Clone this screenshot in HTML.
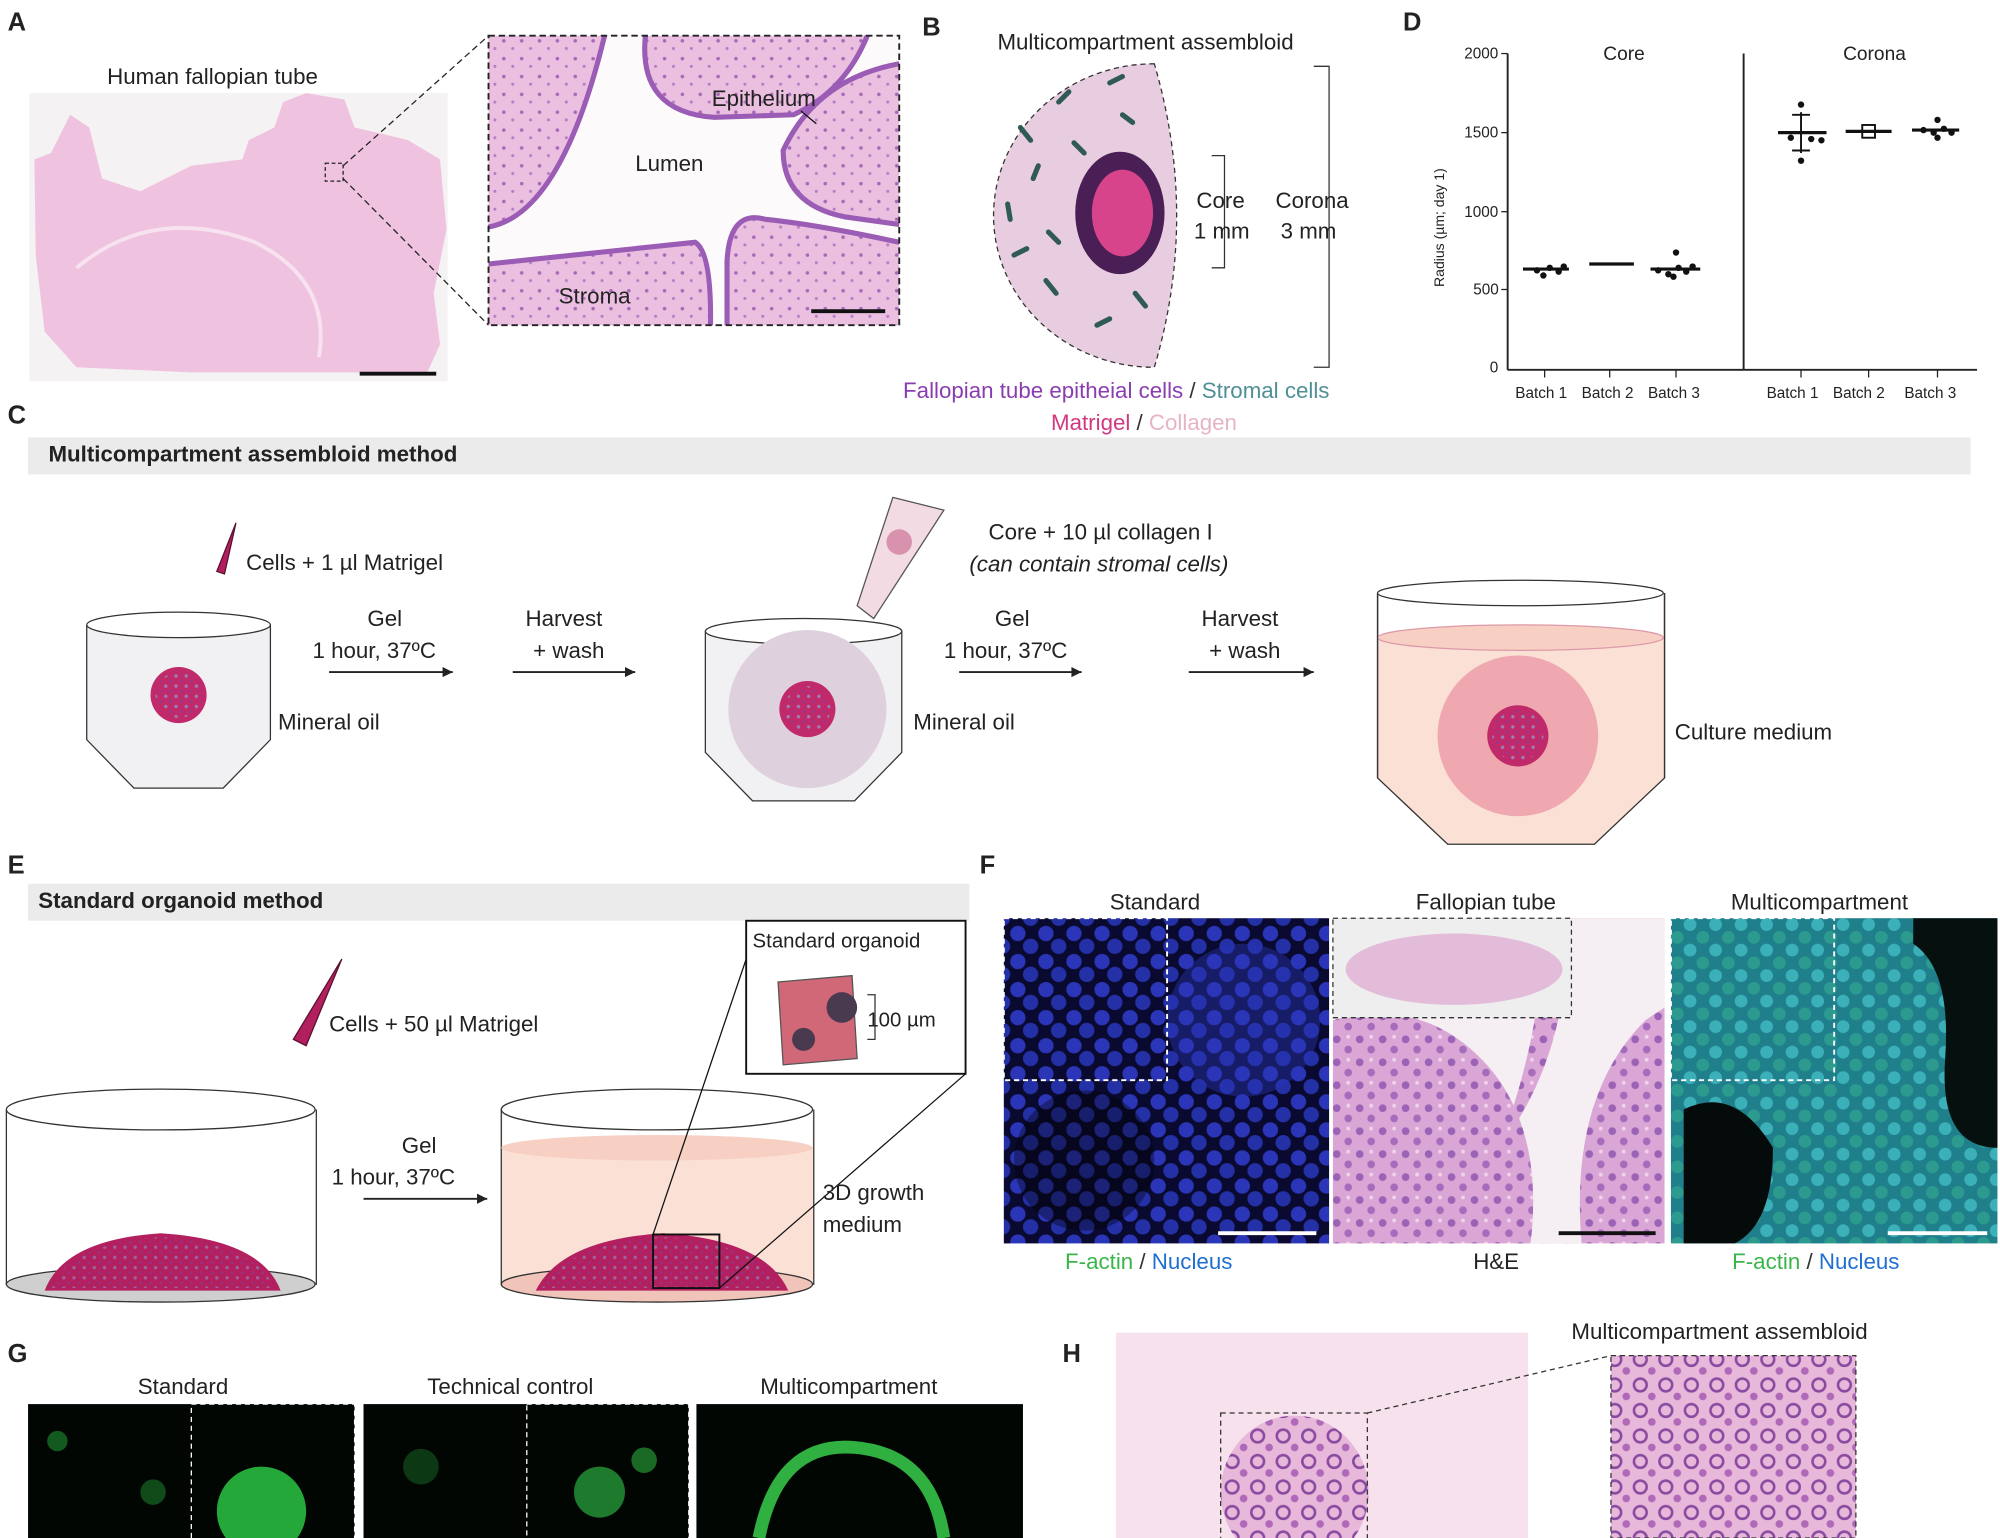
<!DOCTYPE html>
<html><head><meta charset="utf-8"><style>
html,body{margin:0;padding:0;background:#fff;width:2000px;height:1538px;overflow:hidden}
svg{display:block}
text{font-family:"Liberation Sans",Arial,sans-serif;fill:#222}
</style></head><body>
<svg width="2000" height="1538" viewBox="0 0 1568 1206" preserveAspectRatio="none" xmlns="http://www.w3.org/2000/svg">
<defs>
<pattern id="dots" width="8" height="8" patternUnits="userSpaceOnUse"><circle cx="2" cy="2" r="1.3" fill="#8aa7d8"/><circle cx="6" cy="6" r="1.1" fill="#7f3fa0"/></pattern>
<pattern id="tis" width="14" height="14" patternUnits="userSpaceOnUse"><rect width="14" height="14" fill="#ebbfe0"/><circle cx="3" cy="4" r="1.4" fill="#a868b8"/><circle cx="10" cy="10" r="1.2" fill="#b77cc4"/></pattern>
<pattern id="he" width="18" height="18" patternUnits="userSpaceOnUse"><rect width="18" height="18" fill="#d9a6d6"/><circle cx="4" cy="5" r="3" fill="#9b62b5"/><circle cx="13" cy="13" r="3" fill="#a56cbc"/><circle cx="13" cy="3" r="1.5" fill="#f0d2ea"/></pattern>
<pattern id="nuc" width="22" height="22" patternUnits="userSpaceOnUse"><rect width="22" height="22" fill="#0a0a30"/><circle cx="6" cy="6" r="6" fill="#2b35b8"/><circle cx="16" cy="16" r="6" fill="#2430a6"/></pattern>
<pattern id="teal" width="20" height="20" patternUnits="userSpaceOnUse"><rect width="20" height="20" fill="#1f7f8a"/><circle cx="5" cy="5" r="5" fill="#3cb0b8"/><circle cx="15" cy="15" r="5" fill="#2c9a8f"/></pattern>
<pattern id="hmix" width="20" height="20" patternUnits="userSpaceOnUse"><rect width="20" height="20" fill="#e7b8da"/><circle cx="6" cy="6" r="5" fill="none" stroke="#8a4aa0" stroke-width="2"/><circle cx="15" cy="15" r="3" fill="#b068b8"/></pattern>
</defs>

<!-- A -->
<text x="6" y="24" font-size="20" font-weight="bold">A</text>
<text x="84" y="66" font-size="17.5">Human fallopian tube</text>
<rect x="23" y="73" width="328" height="226" fill="#f4f2f3"/>
<path d="M27 125 L40 120 L55 90 L70 100 L80 140 L110 150 L150 130 L190 125 L195 110 L215 100 L222 80 L240 73 L270 78 L278 100 L300 105 L320 110 L345 125 L350 180 L340 230 L345 270 L335 292 L150 292 L60 288 L35 260 L28 200 Z" fill="#efc3e0"/>
<path d="M60 210 Q120 160 200 190 Q260 220 250 280" fill="none" stroke="#f7e3ef" stroke-width="3"/>
<path d="M282 293 L342 293" stroke="#111" stroke-width="3"/>
<rect x="255" y="128" width="14" height="14" fill="none" stroke="#222" stroke-dasharray="3,2"/>
<line x1="269" y1="130" x2="383" y2="28" stroke="#222" stroke-dasharray="5,3"/>
<line x1="269" y1="140" x2="383" y2="255" stroke="#222" stroke-dasharray="5,3"/>
<rect x="383" y="28" width="322" height="227" fill="url(#tis)"/>
<path d="M474 28 L506 28 Q500 88 560 92 L622 90 Q662 72 680 28 L705 28 L705 50 Q640 62 614 118 Q614 160 662 170 L705 176 L705 190 Q640 176 600 172 Q572 164 570 205 L570 255 L557 255 Q558 198 545 190 Q470 198 383 207 L383 178 Q440 168 474 28 Z" fill="#fdfafc"/>
<path d="M474 28 Q440 168 383 178" fill="none" stroke="#9a5cb4" stroke-width="4"/>
<path d="M506 28 Q500 88 560 92 L622 90 Q662 72 680 28" fill="none" stroke="#9a5cb4" stroke-width="4"/>
<path d="M705 50 Q640 62 614 118 Q614 160 662 170 L705 176" fill="none" stroke="#9a5cb4" stroke-width="4"/>
<path d="M383 207 Q470 198 545 190 Q558 198 557 255" fill="none" stroke="#9a5cb4" stroke-width="4"/>
<path d="M570 255 L570 205 Q572 164 600 172 Q640 176 705 190" fill="none" stroke="#9a5cb4" stroke-width="4"/>
<rect x="383" y="28" width="322" height="227" fill="none" stroke="#222" stroke-dasharray="5,3" stroke-width="1.5"/>
<text x="498" y="134" font-size="17.5">Lumen</text>
<text x="558" y="83" font-size="17.5">Epithelium</text>
<line x1="628" y1="87" x2="640" y2="97" stroke="#111"/>
<text x="438" y="238" font-size="17.5">Stroma</text>
<line x1="636" y1="244" x2="694" y2="244" stroke="#111" stroke-width="3"/>

<!-- B -->
<text x="723" y="28" font-size="20" font-weight="bold">B</text>
<text x="782" y="39" font-size="17.5">Multicompartment assembloid</text>
<path d="M905 50 A125 118 0 0 0 905 288 Q940 170 905 50 Z" fill="#e8cde0" stroke="#333" stroke-dasharray="4,3"/>
<ellipse cx="878" cy="167" rx="35" ry="48" fill="#4a1f55"/>
<ellipse cx="880" cy="167" rx="24" ry="34" fill="#d8448c"/>
<g stroke="#2f5a55" stroke-width="4" stroke-linecap="round">
<line x1="800" y1="100" x2="808" y2="110"/><line x1="830" y1="80" x2="838" y2="72"/><line x1="790" y1="160" x2="792" y2="172"/><line x1="820" y1="220" x2="828" y2="230"/><line x1="860" y1="255" x2="870" y2="250"/><line x1="880" y1="90" x2="888" y2="96"/><line x1="795" y1="200" x2="805" y2="195"/><line x1="850" y1="120" x2="842" y2="112"/><line x1="830" y1="190" x2="822" y2="182"/><line x1="890" y1="230" x2="898" y2="240"/><line x1="870" y1="65" x2="880" y2="60"/><line x1="810" y1="140" x2="814" y2="130"/>
</g>
<path d="M950 122 L960 122 L960 210 L950 210" fill="none" stroke="#333"/>
<text x="938" y="163" font-size="17.5">Core</text><text x="936" y="187" font-size="17.5">1 mm</text>
<path d="M1030 52 L1042 52 L1042 288 L1030 288" fill="none" stroke="#333"/>
<text x="1000" y="163" font-size="17.5">Corona</text><text x="1004" y="187" font-size="17.5">3 mm</text>
<text x="708" y="312" font-size="17.5" style="fill:#8a3db0">Fallopian tube epitheial cells <tspan style="fill:#333">/</tspan> <tspan style="fill:#4f8f96">Stromal cells</tspan></text>
<text x="824" y="337" font-size="17.5" style="fill:#d2387f">Matrigel <tspan style="fill:#333">/</tspan> <tspan style="fill:#e7b4c4">Collagen</tspan></text>

<!-- D -->
<text x="1100" y="24" font-size="20" font-weight="bold">D</text>
<line x1="1182" y1="42" x2="1182" y2="290" stroke="#222" stroke-width="1.5"/>
<line x1="1182" y1="290" x2="1550" y2="290" stroke="#222" stroke-width="1.5"/>
<line x1="1367" y1="42" x2="1367" y2="290" stroke="#222" stroke-width="1.5"/>
<g font-size="12"><text x="1148" y="46">2000</text><text x="1148" y="108">1500</text><text x="1148" y="170">1000</text><text x="1155" y="231">500</text><text x="1168" y="292">0</text></g>
<g stroke="#222"><line x1="1177" y1="42" x2="1182" y2="42"/><line x1="1177" y1="104" x2="1182" y2="104"/><line x1="1177" y1="166" x2="1182" y2="166"/><line x1="1177" y1="227" x2="1182" y2="227"/>
<line x1="1211" y1="290" x2="1211" y2="296"/><line x1="1262" y1="290" x2="1262" y2="296"/><line x1="1314" y1="290" x2="1314" y2="296"/><line x1="1412" y1="290" x2="1412" y2="296"/><line x1="1465" y1="290" x2="1465" y2="296"/><line x1="1519" y1="290" x2="1519" y2="296"/></g>
<text transform="translate(1132,225) rotate(-90)" font-size="11">Radius (µm; day 1)</text>
<text x="1257" y="47" font-size="15">Core</text><text x="1445" y="47" font-size="15">Corona</text>
<g stroke="#111" stroke-width="2.5">
<line x1="1194" y1="211" x2="1230" y2="211"/><line x1="1246" y1="207" x2="1281" y2="207"/><line x1="1294" y1="211" x2="1333" y2="211"/>
<line x1="1394" y1="104" x2="1432" y2="104"/><line x1="1447" y1="103" x2="1483" y2="103"/><line x1="1499" y1="102" x2="1536" y2="102"/>
</g>
<g stroke="#111" stroke-width="1.5">
<line x1="1412" y1="88" x2="1412" y2="120"/><line x1="1405" y1="90" x2="1419" y2="90"/><line x1="1405" y1="118" x2="1419" y2="118"/>
<rect x="1460" y="98" width="10" height="10" fill="none"/>
</g>
<g fill="#111">
<circle cx="1205" cy="212" r="2.5"/><circle cx="1215" cy="210" r="2.5"/><circle cx="1222" cy="213" r="2.5"/><circle cx="1210" cy="216" r="2.5"/><circle cx="1226" cy="209" r="2.5"/>
<circle cx="1300" cy="212" r="2.5"/><circle cx="1308" cy="215" r="2.5"/><circle cx="1316" cy="210" r="2.5"/><circle cx="1322" cy="213" r="2.5"/><circle cx="1312" cy="217" r="2.5"/><circle cx="1327" cy="209" r="2.5"/><circle cx="1314" cy="198" r="2.5"/>
<circle cx="1412" cy="82" r="2.5"/><circle cx="1412" cy="126" r="2.5"/><circle cx="1404" cy="108" r="2.5"/><circle cx="1420" cy="109" r="2.5"/><circle cx="1428" cy="110" r="2.5"/>
<circle cx="1508" cy="102" r="2.5"/><circle cx="1516" cy="104" r="2.5"/><circle cx="1524" cy="101" r="2.5"/><circle cx="1530" cy="104" r="2.5"/><circle cx="1519" cy="94" r="2.5"/><circle cx="1519" cy="108" r="2.5"/>
</g>
<g font-size="12"><text x="1188" y="312">Batch 1</text><text x="1240" y="312">Batch 2</text><text x="1292" y="312">Batch 3</text><text x="1385" y="312">Batch 1</text><text x="1437" y="312">Batch 2</text><text x="1493" y="312">Batch 3</text></g>

<!-- C -->
<text x="6" y="332" font-size="20" font-weight="bold">C</text>
<rect x="22" y="343" width="1523" height="29" fill="#ebebeb"/>
<text x="38" y="362" font-size="17.5" font-weight="bold">Multicompartment assembloid method</text>
<path d="M185 410 L176 450 L170 448 Z" fill="#b21f5f" stroke="#5a1030"/>
<text x="193" y="447" font-size="17.5">Cells + 1 µl  Matrigel</text>
<path d="M68 490 L68 580 L105 618 L175 618 L212 580 L212 490" fill="#f1f1f4" stroke="#333"/>
<ellipse cx="140" cy="490" rx="72" ry="10" fill="#fff" stroke="#333"/>
<circle cx="140" cy="545" r="22" fill="#c02a6a"/><circle cx="140" cy="545" r="18" fill="url(#dots)" opacity="0.7"/>
<text x="218" y="572" font-size="17.5">Mineral oil</text>
<text x="288" y="491" font-size="17.5">Gel</text><text x="245" y="516" font-size="17.5">1 hour, 37ºC</text>
<path d="M258 527 L355 527" stroke="#222" stroke-width="1.5"/><path d="M355 527 l-8 -4 v8 Z" fill="#222"/>
<text x="412" y="491" font-size="17.5">Harvest</text><text x="418" y="516" font-size="17.5">+ wash</text>
<path d="M402 527 L498 527" stroke="#222" stroke-width="1.5"/><path d="M498 527 l-8 -4 v8 Z" fill="#222"/>
<path d="M740 400 L685 485 L672 475 L700 390 Z" fill="#f3dbe3" stroke="#555"/>
<circle cx="705" cy="425" r="10" fill="#d892ae"/>
<text x="775" y="423" font-size="17.5">Core + 10 µl  collagen I</text>
<text x="760" y="448" font-size="17.5" font-style="italic">(can contain stromal cells)</text>
<path d="M553 495 L553 590 L590 628 L670 628 L707 590 L707 495" fill="#f1f1f4" stroke="#333"/>
<ellipse cx="630" cy="495" rx="77" ry="10" fill="#fff" stroke="#333"/>
<circle cx="633" cy="556" r="62" fill="#ded0dc"/><circle cx="633" cy="556" r="22" fill="#c02a6a"/><circle cx="633" cy="556" r="18" fill="url(#dots)" opacity="0.7"/>
<text x="716" y="572" font-size="17.5">Mineral oil</text>
<text x="780" y="491" font-size="17.5">Gel</text><text x="740" y="516" font-size="17.5">1 hour, 37ºC</text>
<path d="M752 527 L848 527" stroke="#222" stroke-width="1.5"/><path d="M848 527 l-8 -4 v8 Z" fill="#222"/>
<text x="942" y="491" font-size="17.5">Harvest</text><text x="948" y="516" font-size="17.5">+ wash</text>
<path d="M932 527 L1030 527" stroke="#222" stroke-width="1.5"/><path d="M1030 527 l-8 -4 v8 Z" fill="#222"/>
<path d="M1080 465 L1080 610 L1135 662 L1250 662 L1305 610 L1305 465" fill="#fbe0d6" stroke="#333"/>
<path d="M1081 465 L1081 500 L1304 500 L1304 465" fill="#fff"/>
<ellipse cx="1192" cy="500" rx="112" ry="10" fill="#f7d0c3" stroke="#d9a"/>
<ellipse cx="1192" cy="465" rx="112" ry="10" fill="#fff" stroke="#333"/>
<line x1="1080" y1="465" x2="1080" y2="610" stroke="#333"/><line x1="1305" y1="465" x2="1305" y2="610" stroke="#333"/>
<circle cx="1190" cy="577" r="63" fill="#f0a8b0"/><circle cx="1190" cy="577" r="24" fill="#c02a6a"/><circle cx="1190" cy="577" r="20" fill="url(#dots)" opacity="0.7"/>
<text x="1313" y="580" font-size="17.5">Culture medium</text>

<!-- E -->
<text x="6" y="685" font-size="20" font-weight="bold">E</text>
<rect x="22" y="693" width="738" height="29" fill="#ebebeb"/>
<text x="30" y="712" font-size="17.5" font-weight="bold">Standard organoid method</text>
<path d="M268 752 L240 820 L230 815 Z" fill="#b21f5f" stroke="#5a1030"/>
<text x="258" y="809" font-size="17.5">Cells + 50 µl  Matrigel</text>
<path d="M5 870 L5 1007 L248 1007 L248 870" fill="#fff" stroke="#333"/>
<ellipse cx="126" cy="870" rx="121" ry="16" fill="#fff" stroke="#333"/>
<ellipse cx="126" cy="1007" rx="121" ry="14" fill="#cfcfcf" stroke="#333"/>
<path d="M35 1012 Q50 972 126 967 Q205 972 220 1012 Z" fill="#b22060"/><path d="M40 1010 Q55 975 126 970 Q200 975 215 1010 Z" fill="url(#dots)" opacity="0.5"/>
<text x="315" y="904" font-size="17.5">Gel</text><text x="260" y="929" font-size="17.5">1 hour, 37ºC</text>
<path d="M285 940 L382 940" stroke="#222" stroke-width="1.5"/><path d="M382 940 l-8 -4 v8 Z" fill="#222"/>
<path d="M393 870 L393 1007 L638 1007 L638 870" fill="#fbe0d6" stroke="#333"/>
<rect x="394" y="870" width="243" height="30" fill="#fff"/>
<ellipse cx="515" cy="900" rx="122" ry="10" fill="#f7d0c3"/>
<ellipse cx="515" cy="870" rx="122" ry="16" fill="#fff" stroke="#333"/>
<ellipse cx="515" cy="1007" rx="122" ry="14" fill="#f0c4b8" stroke="#333"/>
<path d="M420 1012 Q440 972 520 967 Q600 972 618 1012 Z" fill="#b22060"/><path d="M425 1010 Q445 975 520 970 Q595 975 612 1010 Z" fill="url(#dots)" opacity="0.5"/>
<rect x="512" y="968" width="52" height="42" fill="none" stroke="#111" stroke-width="1.5"/>
<line x1="512" y1="968" x2="585" y2="752" stroke="#111"/><line x1="564" y1="1010" x2="757" y2="842" stroke="#111"/>
<rect x="585" y="722" width="172" height="120" fill="#fff" stroke="#111" stroke-width="1.5"/>
<text x="590" y="743" font-size="16">Standard organoid</text>
<path d="M610 770 L668 765 L672 830 L614 835 Z" fill="#d06878" stroke="#555"/>
<circle cx="660" cy="790" r="12" fill="#4a3a50"/><circle cx="630" cy="815" r="9" fill="#4a3a50"/>
<path d="M680 780 L686 780 L686 815 L680 815" fill="none" stroke="#333"/>
<text x="680" y="805" font-size="16">100 µm</text>
<text x="645" y="941" font-size="17.5">3D growth</text><text x="645" y="966" font-size="17.5">medium</text>

<!-- F -->
<text x="768" y="685" font-size="20" font-weight="bold">F</text>
<text x="870" y="713" font-size="17.5">Standard</text>
<text x="1110" y="713" font-size="17.5">Fallopian tube</text>
<text x="1357" y="713" font-size="17.5">Multicompartment</text>
<rect x="787" y="720" width="255" height="255" fill="url(#nuc)"/>
<circle cx="850" cy="910" r="55" fill="#000" opacity="0.35"/><circle cx="975" cy="800" r="60" fill="#2a36b8" opacity="0.4"/>
<rect x="787" y="720" width="128" height="127" fill="none" stroke="#fff" stroke-dasharray="4,3" stroke-width="1.5"/>
<line x1="955" y1="967" x2="1032" y2="967" stroke="#fff" stroke-width="3"/>
<rect x="1045" y="720" width="260" height="255" fill="url(#he)"/>
<path d="M1045 800 Q1120 780 1170 840 Q1210 890 1200 975 L1240 975 Q1230 860 1290 800 L1305 790 L1305 720 L1045 720 Z" fill="#f5eef3"/>
<path d="M1230 720 Q1230 830 1175 900 Q1210 810 1210 720 Z" fill="url(#he)"/>
<rect x="1045" y="720" width="187" height="78" fill="#eee" stroke="#333" stroke-dasharray="4,3"/>
<ellipse cx="1140" cy="760" rx="85" ry="28" fill="#e3bcda"/>
<line x1="1222" y1="967" x2="1298" y2="967" stroke="#111" stroke-width="3"/>
<rect x="1310" y="720" width="256" height="255" fill="url(#teal)"/>
<path d="M1320 870 Q1360 850 1390 900 Q1390 960 1360 975 L1320 975 Z" fill="#050a0a"/>
<path d="M1500 740 Q1530 760 1525 830 Q1520 900 1566 900 L1566 720 L1500 720 Z" fill="#06100f"/>
<rect x="1310" y="720" width="128" height="127" fill="none" stroke="#fff" stroke-dasharray="4,3" stroke-width="1.5"/>
<line x1="1480" y1="967" x2="1558" y2="967" stroke="#fff" stroke-width="3"/>
<text x="835" y="995" font-size="17.5" style="fill:#39b54a">F-actin <tspan style="fill:#333">/</tspan> <tspan style="fill:#1f6fd0">Nucleus</tspan></text>
<text x="1155" y="995" font-size="17.5">H&amp;E</text>
<text x="1358" y="995" font-size="17.5" style="fill:#39b54a">F-actin <tspan style="fill:#333">/</tspan> <tspan style="fill:#1f6fd0">Nucleus</tspan></text>

<!-- G -->
<text x="6" y="1068" font-size="20" font-weight="bold">G</text>
<text x="108" y="1093" font-size="17.5">Standard</text>
<text x="335" y="1093" font-size="17.5">Technical control</text>
<text x="596" y="1093" font-size="17.5">Multicompartment</text>
<rect x="22" y="1101" width="256" height="105" fill="#020602"/>
<ellipse cx="205" cy="1185" rx="35" ry="35" fill="#25a83a"/><circle cx="45" cy="1130" r="8" fill="#135a1f"/><circle cx="120" cy="1170" r="10" fill="#0f4a18"/>
<rect x="150" y="1101" width="128" height="110" fill="none" stroke="#fff" stroke-dasharray="4,3"/>
<rect x="285" y="1101" width="255" height="105" fill="#020602"/>
<circle cx="470" cy="1170" r="20" fill="#1e7a2c"/><circle cx="505" cy="1145" r="10" fill="#1a6a26"/><circle cx="330" cy="1150" r="14" fill="#0d3814"/>
<rect x="413" y="1101" width="127" height="110" fill="none" stroke="#fff" stroke-dasharray="4,3"/>
<rect x="546" y="1101" width="256" height="105" fill="#020602"/>
<path d="M595 1206 Q610 1130 670 1135 Q730 1140 740 1206" fill="none" stroke="#2fb040" stroke-width="10"/>

<!-- H -->
<text x="833" y="1068" font-size="20" font-weight="bold">H</text>
<rect x="875" y="1045" width="323" height="161" fill="#f7e1ed"/>
<ellipse cx="1015" cy="1170" rx="58" ry="60" fill="url(#hmix)"/>
<rect x="957" y="1108" width="115" height="100" fill="none" stroke="#333" stroke-dasharray="4,3"/>
<line x1="1072" y1="1108" x2="1263" y2="1063" stroke="#333" stroke-dasharray="4,3"/>
<text x="1232" y="1050" font-size="17.5">Multicompartment assembloid</text>
<rect x="1263" y="1063" width="192" height="143" fill="url(#hmix)" stroke="#333" stroke-dasharray="4,3"/>
</svg>
</body></html>
